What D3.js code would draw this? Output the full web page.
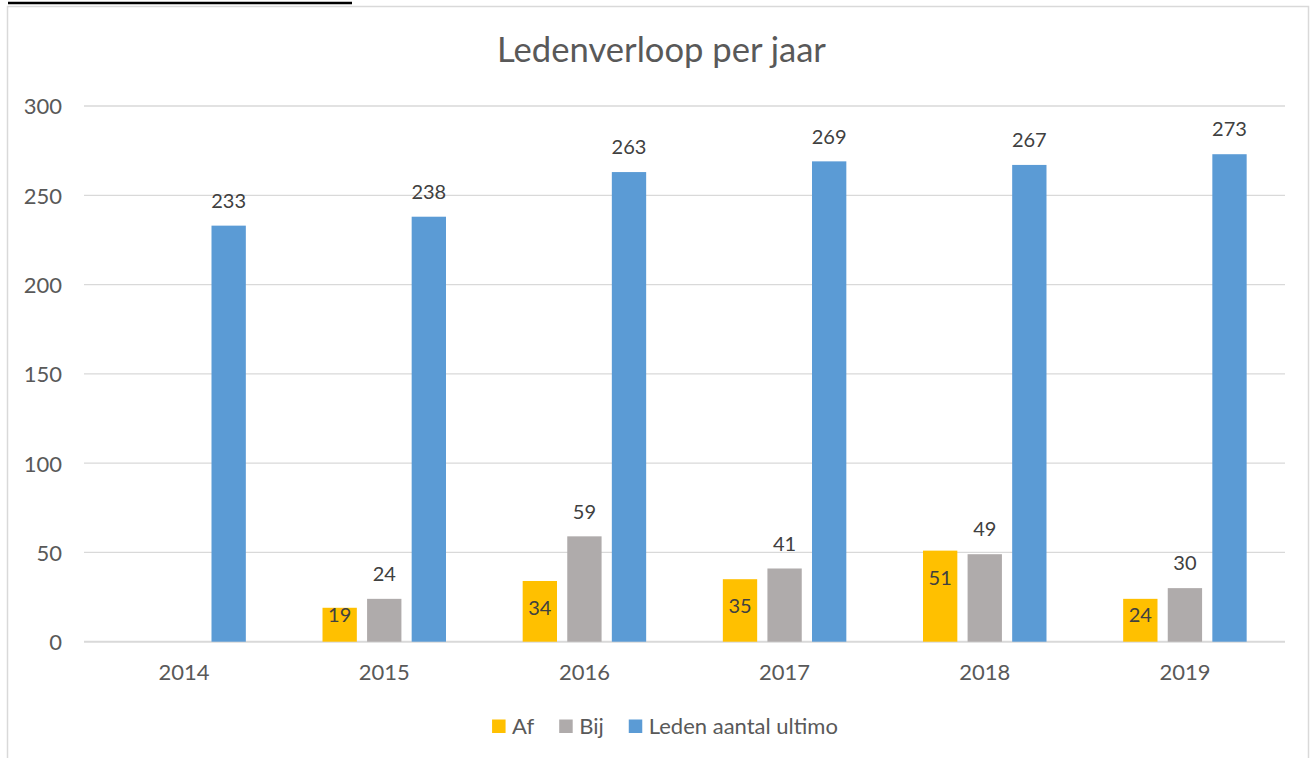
<!DOCTYPE html>
<html>
<head>
<meta charset="utf-8">
<script src="https://cdn.jsdelivr.net/npm/d3@7"></script>
<style>
html,body{margin:0;padding:0;background:#fff;}
svg{display:block;font-family:Lato,"Open Sans",sans-serif;}
</style>
</head>
<body>
<svg id="chart" width="1314" height="758"></svg>
<script>
const years = ["2014","2015","2016","2017","2018","2019"];
const seriesNames = ["Af","Bij","Leden aantal ultimo"];
const afValues = [null, 19, 34, 35, 51, 24];
const bijValues = [null, 24, 59, 41, 49, 30];
const ledenValues = [233, 238, 263, 269, 267, 273];
const yTicks = [0, 50, 100, 150, 200, 250, 300];
const titleText = "Ledenverloop per jaar";

const colors = {"Af":"#FFC000","Bij":"#AFABAB","Leden aantal ultimo":"#5B9BD5"};
const seriesData = {"Af":afValues,"Bij":bijValues,"Leden aantal ultimo":ledenValues};

const svg = d3.select("#chart");

// frame
svg.append("line").attr("x1",8).attr("x2",352).attr("y1",3).attr("y2",3).attr("stroke","#000").attr("stroke-width",2.5);
svg.append("rect").attr("x",7.5).attr("y",6.5).attr("width",1301).attr("height",800)
  .attr("fill","none").attr("stroke","#D9D9D9").attr("stroke-width",1.5);

const x0 = d3.scaleBand().domain(years).range([84,1285]).padding(0);
const x1 = d3.scaleBand().domain(seriesNames).range([0,x0.bandwidth()]).paddingInner(0.23).paddingOuter(0.86);
const y = d3.scaleLinear().domain([0,300]).range([641.7,106]);

// gridlines
svg.append("g").selectAll("line").data(yTicks).join("line")
  .attr("x1",84).attr("x2",1285)
  .attr("y1",d=>y(d)).attr("y2",d=>y(d))
  .attr("stroke","#D9D9D9").attr("stroke-width",d=>d===0?2:1.3);

// y axis labels
const yAxis = d3.axisLeft(y).tickValues(yTicks).tickSize(0).tickPadding(0);
const gy = svg.append("g").attr("transform","translate(62,0)").call(yAxis);
gy.select(".domain").remove();
gy.selectAll("text").attr("font-family","Lato").attr("font-size",22).attr("fill","#595959").attr("dy","0.36em");

// x axis labels
const xAxis = d3.axisBottom(x0).tickSize(0).tickPadding(0);
const gx = svg.append("g").attr("transform","translate(0,672.5)").call(xAxis);
gx.select(".domain").remove();
gx.selectAll("text").attr("font-family","Lato").attr("font-size",22).attr("fill","#595959").attr("dy","0.36em");

// bars
const flat = [];
years.forEach((yr,i)=>seriesNames.forEach(s=>{
  const v = seriesData[s][i];
  if(v!==null && v!==undefined) flat.push({year:yr,series:s,value:v});
}));

svg.append("g").selectAll("rect").data(flat).join("rect")
  .attr("x",d=>x0(d.year)+x1(d.series))
  .attr("y",d=>y(d.value))
  .attr("width",x1.bandwidth())
  .attr("height",d=>y(0)-y(d.value))
  .attr("fill",d=>colors[d.series]);

// labels
svg.append("g").selectAll("text").data(flat).join("text")
  .attr("x",d=>x0(d.year)+x1(d.series)+x1.bandwidth()/2)
  .attr("y",d=>{
    if(d.series==="Af") return Math.min(y(d.value)+27, y(0)-26.5);
    return y(d.value)-25;
  })
  .attr("dy","0.36em")
  .attr("text-anchor","middle")
  .attr("font-family","Lato").attr("font-size",20).attr("fill","#404040")
  .text(d=>d.value);

// title
const title = svg.append("text").attr("x",661.5).attr("y",62)
  .attr("text-anchor","middle").attr("font-family","Lato").attr("font-size",33).attr("fill","#595959")
  .text(titleText);
const tw = title.node().getComputedTextLength();
title.attr("font-size", 33*329/tw);

// legend
const lg = svg.append("g");
const items = lg.selectAll("g").data(seriesNames).join("g");
items.append("rect").attr("width",13.5).attr("height",13.5).attr("y",719.5).attr("fill",d=>colors[d]);
items.append("text").attr("x",20).attr("y",726.3).attr("dy","0.36em")
  .attr("font-family","Lato").attr("font-size",22).attr("fill","#595959").text(d=>d);
let cx = 0; const pos=[];
items.each(function(){ pos.push(cx); const w=d3.select(this).select("text").node().getComputedTextLength(); cx += 20 + w + 25; });
const total = cx - 25;
const start = 665 - total/2;
items.attr("transform",(d,i)=>`translate(${start+pos[i]},0)`);
</script>
</body>
</html>
